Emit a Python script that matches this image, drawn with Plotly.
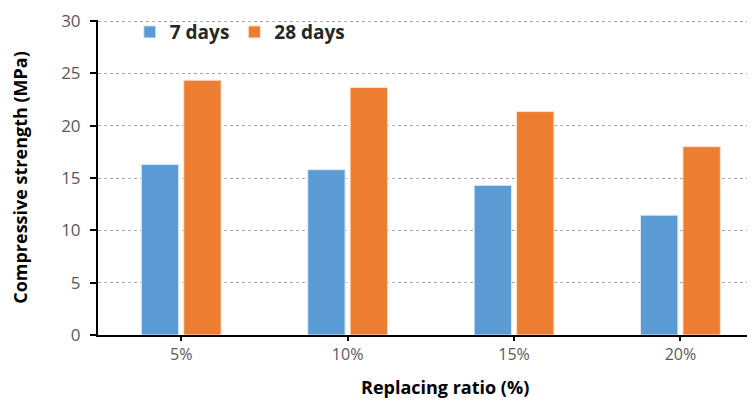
import plotly.graph_objects as go

categories = ["5%", "10%", "15%", "20%"]
days7 = [16.3, 15.8, 14.3, 11.45]
days28 = [24.35, 23.65, 21.35, 18.0]

FONT = "Open Sans"

fig = go.Figure()
fig.add_trace(go.Bar(x=categories, y=days7, name="7 days",
                     marker=dict(color="#5B9BD5", line=dict(color="#DDEBF7", width=1))))
fig.add_trace(go.Bar(x=categories, y=days28, name="28 days",
                     marker=dict(color="#ED7D31", line=dict(color="#FBE0CF", width=1))))

fig.update_layout(
    width=739, height=393,
    margin=dict(l=90, r=0, t=12, b=66),
    paper_bgcolor="white", plot_bgcolor="white",
    barmode="group", bargap=0.49, bargroupgap=0.12,
    font=dict(family=FONT, color="#595959", size=14),
    showlegend=True,
    legend=dict(orientation="h", x=0.049, y=1.022, xanchor="left", yanchor="top",
                font=dict(family=FONT, size=19, color="#262626", weight="bold"),
                bgcolor="rgba(0,0,0,0)", itemwidth=30, tracegroupgap=0),
    annotations=[dict(text="Replacing ratio (%)", xref="paper", yref="paper",
                      x=0.535, y=-0.165, xanchor="center", yanchor="middle",
                      showarrow=False,
                      font=dict(family=FONT, size=18, color="black", weight="bold"))],
)
fig.update_xaxes(
    range=[-0.5, 3.4], automargin=False,
    showline=True, linecolor="black", linewidth=2,
    ticks="outside", ticklen=4, tickcolor="black", tickwidth=2,
    tickfont=dict(size=16, color="#595959"),
    showgrid=False,
)
fig.update_yaxes(
    range=[0, 30.1], dtick=5, automargin=False,
    showline=True, linecolor="black", linewidth=2,
    ticks="outside", ticklen=6, tickcolor="black", tickwidth=2,
    ticklabelstandoff=6, ticklabeloverflow="allow",
    tickfont=dict(size=17, color="#595959"),
    showgrid=True, gridcolor="#A6A6A6", griddash="dot", gridwidth=1,
    zeroline=False,
    title=dict(text="Compressive strength (MPa)", font=dict(size=18, color="black", weight="bold"), standoff=37),
)

fig.write_html("out.html")
